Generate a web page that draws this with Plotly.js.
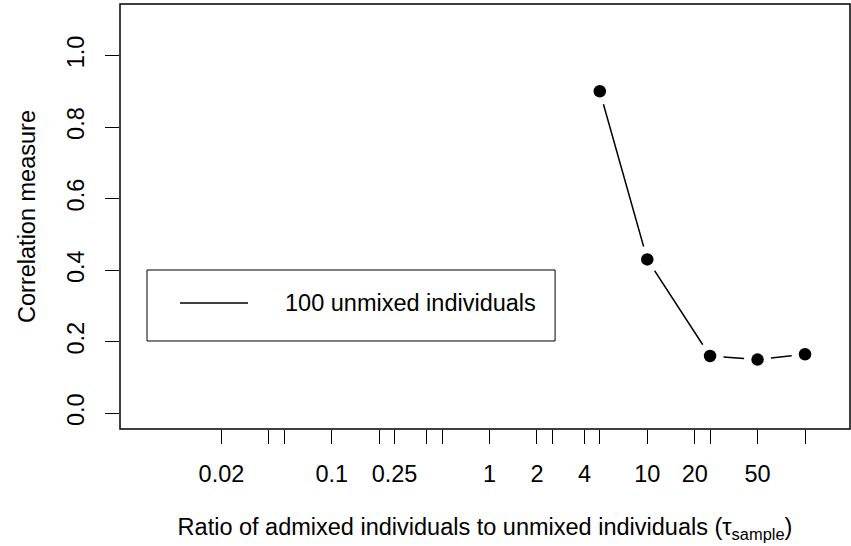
<!DOCTYPE html>
<html>
<head>
<meta charset="utf-8">
<script src="https://cdn.plot.ly/plotly-3.0.1.min.js"></script>
<style>
  html, body { margin: 0; padding: 0; background: #ffffff; }
  #chart { width: 851px; height: 546px; }
</style>
</head>
<body>
<div id="chart"></div>
<script>
// Ratio of admixed to unmixed individuals and the correlation measure
const ratio = [5, 10, 25, 50, 100];
const correlation = [0.90, 0.43, 0.16, 0.15, 0.165];

// Log-axis ticks; only some carry a label
const tickValues = [0.02, 0.04, 0.05, 0.1, 0.2, 0.25, 0.4, 0.5, 1, 2, 2.5, 4, 5, 10, 20, 25, 50, 100];
const tickLabels = ['0.02', '', '', '0.1', '', '0.25', '', '', '1', '2', '', '4', '', '10', '20', '', '50', ''];

const yTicks = [0, 0.2, 0.4, 0.6, 0.8, 1.0];

const seriesName = '100 unmixed individuals';
const FONT = 'Liberation Sans, Arial, Helvetica, sans-serif';
const FS = 23.5;

const traces = [
  // connecting line
  {
    x: ratio, y: correlation, type: 'scatter', mode: 'lines',
    line: { color: '#000000', width: 1.5 },
    showlegend: false, hoverinfo: 'skip'
  },
  // white halo leaves the small gap around each point
  {
    x: ratio, y: correlation, type: 'scatter', mode: 'markers',
    marker: { color: '#ffffff', size: 27, line: { width: 0 } },
    showlegend: false, hoverinfo: 'skip'
  },
  // filled points
  {
    x: ratio, y: correlation, type: 'scatter', mode: 'markers',
    name: seriesName,
    marker: { color: '#000000', size: 12.5, line: { width: 0 } },
    showlegend: false
  }
];

const layout = {
  width: 851, height: 546,
  margin: { l: 120, r: 1, t: 4, b: 117 },
  paper_bgcolor: '#ffffff', plot_bgcolor: '#ffffff',
  font: { family: FONT, size: FS, color: '#000000' },
  showlegend: false,
  xaxis: {
    type: 'log',
    range: [-2.342, 2.285],
    tickmode: 'array', tickvals: tickValues, ticktext: tickLabels,
    ticks: 'outside', ticklen: 14, tickwidth: 1, tickcolor: '#000000',
    ticklabelstandoff: 10,
    showgrid: false, zeroline: false, showline: false,
    tickfont: { family: FONT, size: FS, color: '#000000' },
    title: {
      text: 'Ratio of admixed individuals to unmixed individuals (τ<sub>sample</sub>)',
      font: { family: FONT, size: FS, color: '#000000' },
      standoff: 32
    }
  },
  yaxis: {
    range: [-0.044, 1.144],
    tickmode: 'array', tickvals: yTicks, tickformat: '.1f',
    tickangle: -90,
    ticks: 'outside', ticklen: 14, tickwidth: 1, tickcolor: '#000000',
    ticklabelstandoff: 12,
    showgrid: false, zeroline: false, showline: false,
    tickfont: { family: FONT, size: FS, color: '#000000' },
    title: {
      text: 'Correlation measure',
      font: { family: FONT, size: FS, color: '#000000' },
      standoff: 20
    }
  },
  shapes: [
    // plot frame
    { type: 'rect', xref: 'paper', yref: 'paper', x0: 0, x1: 1, y0: 0, y1: 1,
      line: { color: '#000000', width: 1.5 }, fillcolor: 'rgba(0,0,0,0)' },
    // legend frame
    { type: 'rect', xref: 'paper', yref: 'paper', x0: 0.037, x1: 0.596, y0: 0.2071, y1: 0.3741,
      line: { color: '#000000', width: 1 }, fillcolor: '#ffffff' },
    // legend key line
    { type: 'line', xref: 'paper', yref: 'paper', x0: 0.0822, x1: 0.1753, y0: 0.2965, y1: 0.2965,
      line: { color: '#000000', width: 1.5 } }
  ],
  annotations: [
    { xref: 'paper', yref: 'paper', x: 0.2233, y: 0.2965, xanchor: 'left', yanchor: 'middle',
      text: seriesName, showarrow: false,
      font: { family: FONT, size: FS, color: '#000000' } }
  ]
};

Plotly.newPlot('chart', traces, layout, { staticPlot: true, displayModeBar: false });
</script>
</body>
</html>
